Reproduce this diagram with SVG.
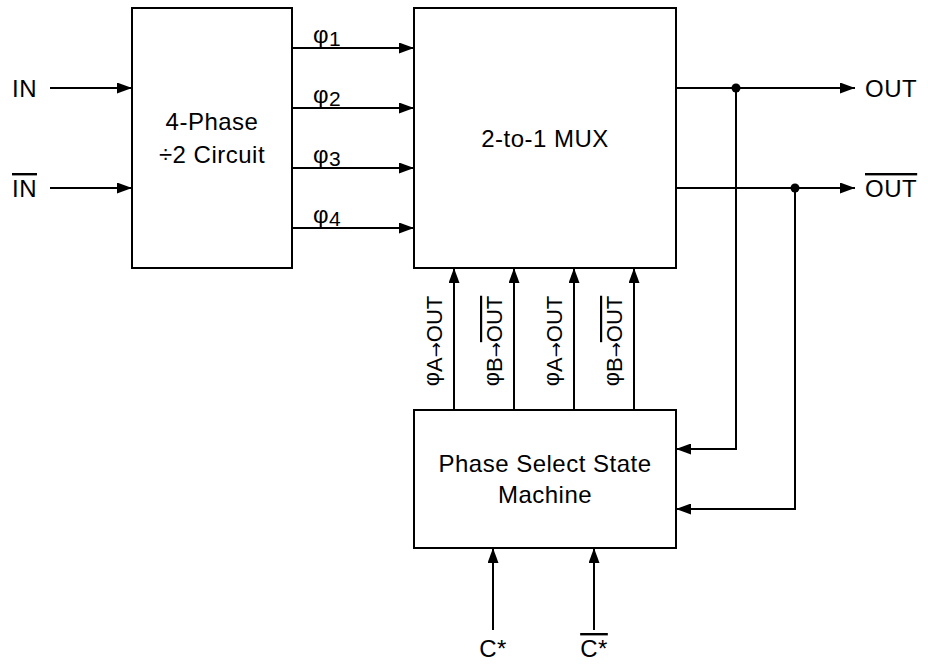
<svg xmlns="http://www.w3.org/2000/svg" width="928" height="664" viewBox="0 0 928 664">
<style>
text{font-family:"Liberation Sans",Arial,sans-serif;font-size:24px;letter-spacing:0.5px;fill:#000}
.box{fill:#fff;stroke:#000;stroke-width:2}
.w{fill:none;stroke:#000;stroke-width:2}
.m{text-anchor:middle}
.ov{text-decoration:overline}
.rot{font-size:22px;letter-spacing:0}
.arr{font-family:"DejaVu Sans",sans-serif;font-size:18px}
</style>
<defs>
<marker id="ah" viewBox="0 0 15 11" refX="15" refY="5.5" markerWidth="15" markerHeight="11" markerUnits="userSpaceOnUse" orient="auto">
<path d="M0,0 L15,5.5 L0,11 z" fill="#000"/>
</marker>
</defs>
<g id="connectors">
<line class="w" x1="50" y1="88" x2="132" y2="88" marker-end="url(#ah)"/>
<line class="w" x1="50" y1="188" x2="132" y2="188" marker-end="url(#ah)"/>
<line class="w" x1="292" y1="48" x2="414" y2="48" marker-end="url(#ah)"/>
<line class="w" x1="292" y1="108" x2="414" y2="108" marker-end="url(#ah)"/>
<line class="w" x1="292" y1="168" x2="414" y2="168" marker-end="url(#ah)"/>
<line class="w" x1="292" y1="228" x2="414" y2="228" marker-end="url(#ah)"/>
<line class="w" x1="676" y1="88" x2="855" y2="88" marker-end="url(#ah)"/>
<line class="w" x1="676" y1="188" x2="855" y2="188" marker-end="url(#ah)"/>
<polyline class="w" points="736,88 736,449 676,449" marker-end="url(#ah)"/>
<polyline class="w" points="795,188 795,509 676,509" marker-end="url(#ah)"/>
<circle cx="736" cy="88" r="4.5" fill="#000"/>
<circle cx="795" cy="188" r="4.5" fill="#000"/>
<line class="w" x1="454" y1="410" x2="454" y2="268" marker-end="url(#ah)"/>
<line class="w" x1="514" y1="410" x2="514" y2="268" marker-end="url(#ah)"/>
<line class="w" x1="574" y1="410" x2="574" y2="268" marker-end="url(#ah)"/>
<line class="w" x1="634" y1="410" x2="634" y2="268" marker-end="url(#ah)"/>
<line class="w" x1="493" y1="630" x2="493" y2="548" marker-end="url(#ah)"/>
<line class="w" x1="594" y1="630" x2="594" y2="548" marker-end="url(#ah)"/>
</g>
<g id="labels">
<text x="12" y="97">IN</text>
<text x="12" y="197" class="ov">IN</text>
<text x="313" y="43">φ<tspan font-size="21" dy="3">1</tspan></text>
<text x="313" y="103">φ<tspan font-size="21" dy="3">2</tspan></text>
<text x="313" y="163">φ<tspan font-size="21" dy="3">3</tspan></text>
<text x="313" y="223">φ<tspan font-size="21" dy="3">4</tspan></text>
<text x="865" y="97">OUT</text>
<text x="865" y="197" class="ov">OUT</text>
<text transform="translate(439,341) rotate(-90)" class="m rot">φ<tspan dy="3">A</tspan><tspan class="arr">→</tspan>OUT</text>
<text transform="translate(499,341) rotate(-90)" class="m rot">φ<tspan dy="3">B</tspan><tspan class="arr">→</tspan><tspan class="ov">OUT</tspan></text>
<text transform="translate(559,341) rotate(-90)" class="m rot">φ<tspan dy="3">A</tspan><tspan class="arr">→</tspan>OUT</text>
<text transform="translate(619,341) rotate(-90)" class="m rot">φ<tspan dy="3">B</tspan><tspan class="arr">→</tspan><tspan class="ov">OUT</tspan></text>
<text x="493" y="657" class="m">C*</text>
<text x="594" y="657" class="m ov">C*</text>
</g>
<g id="divider">
<rect class="box" x="132" y="8" width="160" height="260"/>
<text x="212" y="130" class="m">4-Phase</text>
<text x="212" y="163" class="m">÷2 Circuit</text>
</g>
<g id="mux">
<rect class="box" x="414" y="8" width="262" height="260"/>
<text x="545" y="147" class="m">2-to-1 MUX</text>
</g>
<g id="fsm">
<rect class="box" x="414" y="410" width="262" height="138"/>
<text x="545" y="472" class="m">Phase Select State</text>
<text x="545" y="503" class="m">Machine</text>
</g>
</svg>
